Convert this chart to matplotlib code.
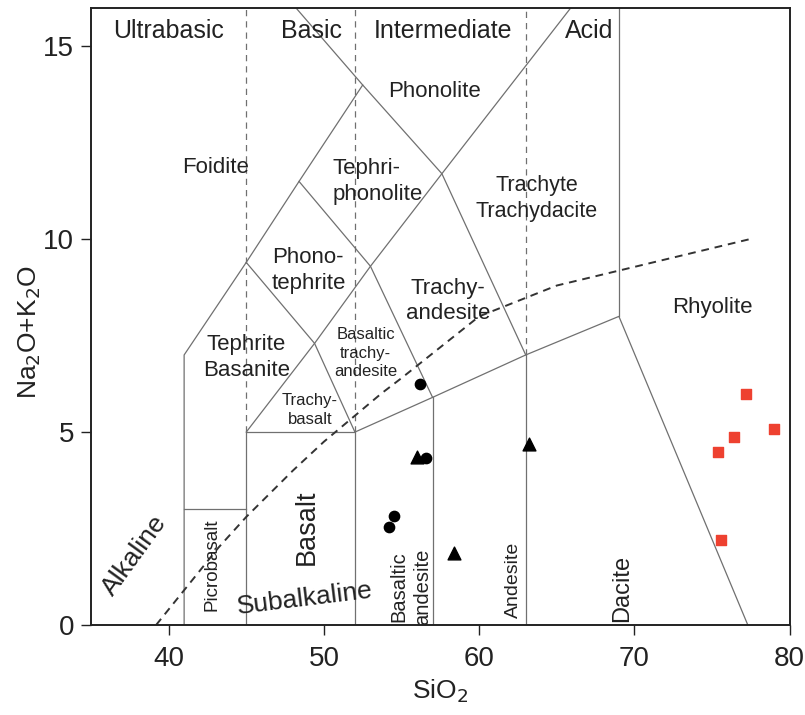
import matplotlib
matplotlib.use("Agg")
import matplotlib.pyplot as plt

plt.rcParams['font.family'] = ['Liberation Sans', 'DejaVu Sans']

# --- data: sample points ---
circle_sio2 = [56.2, 56.6, 54.5, 54.2]
circle_alk = [6.25, 4.32, 2.82, 2.54]
triangle_sio2 = [56.0, 58.4, 63.2]
triangle_alk = [4.35, 1.86, 4.7]
square_sio2 = [77.2, 79.0, 76.4, 75.4, 75.6]
square_alk = [6.0, 5.08, 4.87, 4.48, 2.2]

# --- TAS field boundaries (SiO2, Na2O+K2O) ---
boundaries = [
    [(41, 0), (41, 7), (45, 9.4), (48.4, 11.5), (52.5, 14), (57.6, 11.7), (63, 7), (69, 8), (77.3, 0)],
    [(41, 3), (45, 3)],
    [(45, 0), (45, 5), (52, 5), (52, 0)],
    [(45, 5), (49.4, 7.3), (53, 9.3), (57.6, 11.7), (65.9, 16)],
    [(45, 9.4), (49.4, 7.3), (52, 5)],
    [(48.4, 11.5), (53, 9.3), (57, 5.9)],
    [(52, 5), (57, 5.9), (63, 7)],
    [(57, 0), (57, 5.9)],
    [(63, 0), (63, 7)],
    [(69, 8), (69, 16)],
    [(52.5, 14), (48.2, 16)],
]
division_sio2 = [45, 52, 63]
division_from = [5, 5, 7]

alk_curve_sio2 = [39.2, 40, 43.2, 45, 48, 50, 53.7, 55, 60, 65, 77.4]
alk_curve_alk = [0, 0.4, 2.0, 2.8, 4.0, 4.75, 6.0, 6.4, 8.0, 8.8, 10.0]

fig = plt.figure(figsize=(8.05, 7.15), dpi=100)
ax = fig.add_axes([0.113, 0.126, 0.868, 0.863])
ax.set_xlim(35, 80)
ax.set_ylim(0, 16)

gray = '#707070'
for seg in boundaries:
    xs, ys = zip(*seg)
    ax.plot(xs, ys, color=gray, lw=0.9, zorder=2)
for x0, y0 in zip(division_sio2, division_from):
    ax.plot([x0, x0], [y0, 16], color=gray, lw=0.9, ls=(0, (5, 4)), zorder=2)

ax.plot(alk_curve_sio2, alk_curve_alk, color='#333333', lw=1.4, ls=(0, (4, 3)), zorder=2)

ax.scatter(circle_sio2, circle_alk, marker='o', s=55, color='black', zorder=4)
ax.scatter(triangle_sio2, triangle_alk, marker='^', s=85, color='black', zorder=4)
ax.scatter(square_sio2, square_alk, marker='s', s=55, color='#ee4130', zorder=4)

tc = '#222222'
big = 18
mid = 16
small = 12
labels = [
    ("Ultrabasic", 40.0, 15.4, big, 0, 'center'),
    ("Basic", 49.2, 15.4, big, 0, 'center'),
    ("Intermediate", 57.7, 15.4, big, 0, 'center'),
    ("Acid", 67.1, 15.4, big, 0, 'center'),
    ("Phonolite", 57.1, 13.83, mid, 0, 'center'),
    ("Foidite", 43.0, 11.87, mid, 0, 'center'),
    ("Tephri-\nphonolite", 50.55, 11.5, mid, 0, 'left'),
    ("Trachyte\nTrachydacite", 63.7, 11.05, 15.5, 0, 'center'),
    ("Phono-\ntephrite", 49.0, 9.2, mid, 0, 'center'),
    ("Trachy-\nandesite", 58.0, 8.4, mid, 0, 'center'),
    ("Rhyolite", 75.0, 8.24, mid, 0, 'center'),
    ("Tephrite\nBasanite", 45.0, 6.94, mid, 0, 'center'),
    ("Basaltic\ntrachy-\nandesite", 52.7, 7.05, small, 0, 'center'),
    ("Trachy-\nbasalt", 49.1, 5.57, small, 0, 'center'),
    ("Picrobasalt", 42.8, 1.55, 13.5, 90, 'center'),
    ("Basalt", 48.9, 2.54, 19.5, 90, 'center'),
    ("Basaltic\nandesite", 55.6, 0.98, 14.5, 90, 'center'),
    ("Andesite", 62.2, 1.17, 14, 90, 'center'),
    ("Dacite", 69.2, 0.95, 17, 90, 'center'),
    ("Alkaline", 37.8, 1.8, 19, 54, 'center'),
    ("Subalkaline", 48.8, 0.68, 19, 7, 'center'),
]
for txt, x, y, fs, rot, ha in labels:
    ax.text(x, y, txt, ha=ha, va='center', fontsize=fs, rotation=rot,
            color=tc, linespacing=1.3, multialignment=ha, zorder=3)

ax.set_xticks([40, 50, 60, 70, 80])
ax.set_yticks([0, 5, 10, 15])
ax.tick_params(direction='out', length=7, width=1.0, labelsize=20, colors='#222222', pad=5)
ax.tick_params(axis='x', pad=8)
for s in ax.spines.values():
    s.set_linewidth(1.4)
    s.set_color('#222222')
ax.set_xlabel('SiO$_2$', fontsize=19, color='#222222', labelpad=4)
ax.set_ylabel('Na$_2$O+K$_2$O', fontsize=19, color='#222222', labelpad=8)
ax.yaxis.set_label_coords(-0.068, 0.475)

fig.savefig('out.png', dpi=100)
